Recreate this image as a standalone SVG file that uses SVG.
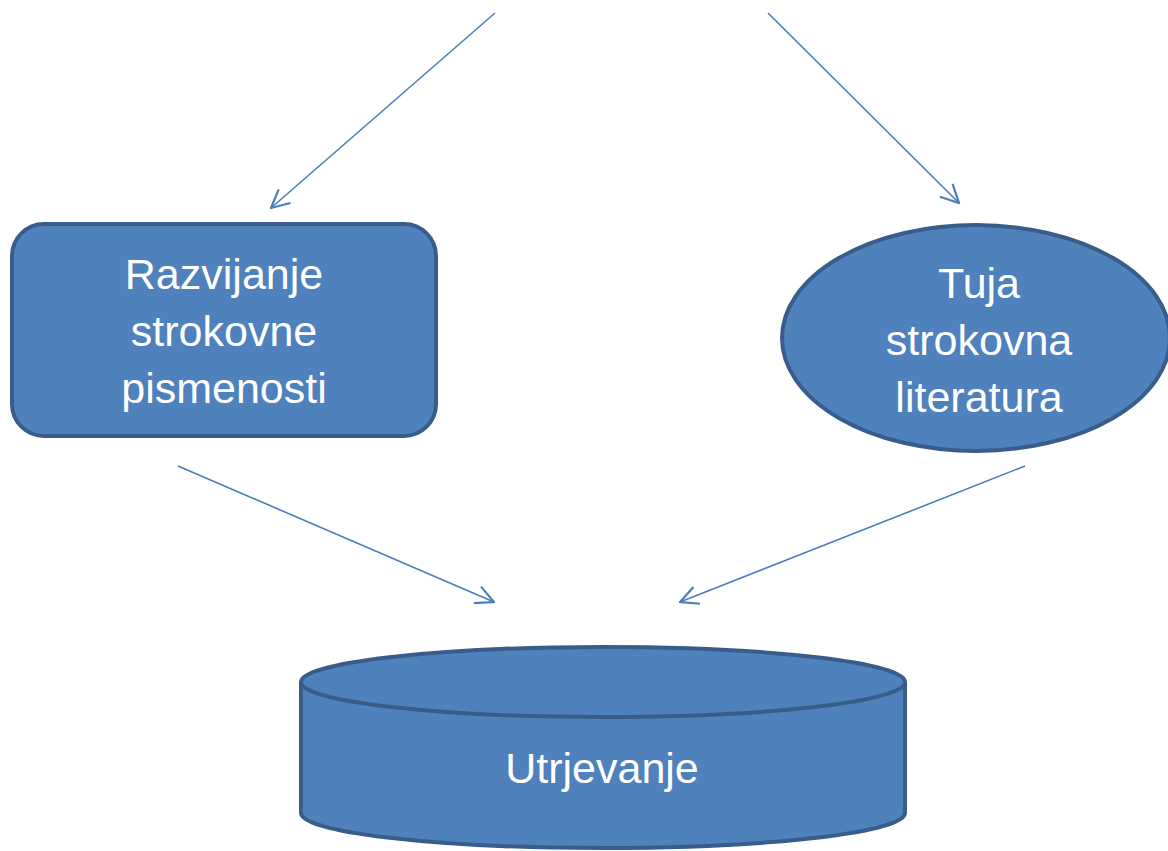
<svg xmlns="http://www.w3.org/2000/svg" width="1168" height="851" viewBox="0 0 1168 851">
<style>
.shape{fill:#4f81bd;stroke:#385d8a;stroke-width:4}
.lbl{font-family:"Liberation Sans",Arial,sans-serif;font-size:43px;fill:#ffffff;text-anchor:middle}
.conn{stroke:#4a7ebb;stroke-width:1.6;fill:none;marker-end:url(#arr)}
</style>
<defs>
<marker id="arr" viewBox="0 0 20 20" refX="19" refY="10" markerWidth="20" markerHeight="20" markerUnits="userSpaceOnUse" orient="auto">
<path d="M1,1 L19,10 L1,19" fill="none" stroke="#4a7ebb" stroke-width="2.2"/>
</marker>
</defs>
<rect width="1168" height="851" fill="#ffffff"/>
<g id="connectors">
<line class="conn" x1="495" y1="13" x2="271" y2="208"/>
<line class="conn" x1="768" y1="13" x2="959" y2="203"/>
<line class="conn" x1="178" y1="466" x2="494" y2="602"/>
<line class="conn" x1="1025" y1="466" x2="680" y2="602"/>
</g>
<g id="node-razvijanje">
<rect class="shape" x="12" y="224" width="424" height="212" rx="32" ry="32"/>
<text class="lbl" x="224" y="289">Razvijanje</text>
<text class="lbl" x="224" y="346">strokovne</text>
<text class="lbl" x="224" y="403">pismenosti</text>
</g>
<g id="node-tuja">
<ellipse class="shape" cx="976" cy="338" rx="194" ry="113"/>
<text class="lbl" x="979" y="298">Tuja</text>
<text class="lbl" x="979" y="355">strokovna</text>
<text class="lbl" x="979" y="412">literatura</text>
</g>
<g id="node-utrjevanje">
<path class="shape" d="M301,682 L301,813 A302,35 0 0 0 905,813 L905,682 A302,35 0 0 0 301,682 Z"/>
<path class="shape" d="M301,682 A302,35 0 0 0 905,682" fill="none"/>
<text class="lbl" x="602" y="783">Utrjevanje</text>
</g>
</svg>
